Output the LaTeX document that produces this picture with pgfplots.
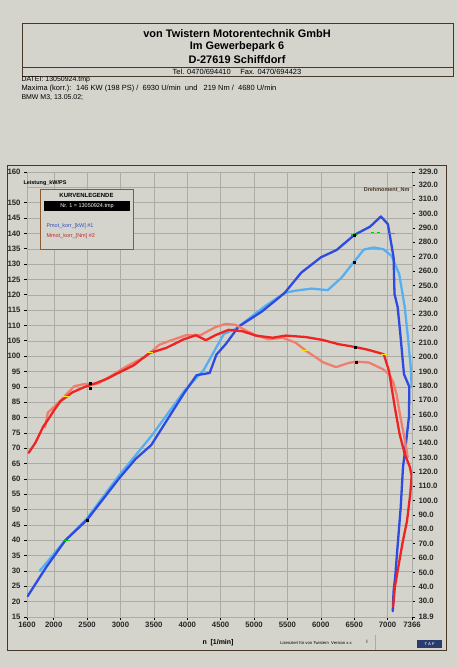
\documentclass[border=0pt]{standalone}
\usepackage{fontspec}
\setmainfont{Liberation Sans}
\usepackage{pgfplots}
\pgfplotsset{compat=1.18}

\definecolor{paper}{RGB}{212,212,204}
\definecolor{gridc}{RGB}{172,172,166}
\definecolor{framec}{RGB}{70,55,40}
\definecolor{pdark}{RGB}{45,75,225}
\definecolor{plight}{RGB}{85,175,240}
\definecolor{tred}{RGB}{240,35,35}
\definecolor{tsalmon}{RGB}{240,125,110}
\definecolor{legblue}{RGB}{50,80,190}
\definecolor{legred}{RGB}{190,40,40}
\definecolor{legframe}{RGB}{140,90,45}
\definecolor{navy}{RGB}{40,60,110}

\pgfplotsset{
  dyno/.style={
    at={(27bp,50bp)}, anchor=south west,
    scale only axis, width=385bp, height=445bp,
    xmin=1600, xmax=7366,
    tick align=outside, major tick length=3bp,
    tick style={black, line width=0.6bp},
    axis line style={gridc, line width=0.5bp},
    ticklabel style={font=\bfseries\fontsize{7.8}{8}\selectfont, text=black!85},
    /pgf/number format/assume math mode=true,
    /pgf/number format/1000 sep={},
    clip=true,
  },
  curve/.style={line width=2.3bp, line join=round, line cap=round},
}

\begin{document}
\begin{tikzpicture}[x=1bp,y=1bp]
\fill[paper] (0,0) rectangle (457,667);

% header
\draw[framec, line width=0.6bp] (22,591) rectangle (453,644);
\draw[framec, line width=0.6bp] (22,600) -- (453,600);
\node[font=\bfseries\fontsize{11}{12}\selectfont] at (237,633) {von Twistern Motorentechnik GmbH};
\node[font=\bfseries\fontsize{11}{12}\selectfont] at (237,620) {Im Gewerbepark 6};
\node[font=\bfseries\fontsize{11}{12}\selectfont] at (237,607) {D-27619 Schiffdorf};
\node[font=\fontsize{7.5}{8}\selectfont] at (237,595.5) {Tel. 0470/694410 \quad Fax. 0470/694423};
\node[anchor=west, font=\fontsize{7}{8}\selectfont] at (18,587) {DATEI: 13050924.tmp};
\node[anchor=west, font=\fontsize{7.5}{8}\selectfont] at (18,578) {Maxima (korr.): \ 146 KW (198 PS) / \ 6930 U/min \ und \ \ 219 Nm / \ 4680 U/min};
\node[anchor=west, font=\fontsize{7}{8}\selectfont] at (18,569) {BMW M3, 13.05.02;};

% chart frame
\draw[framec, line width=0.9bp] (7,17) rectangle (446,502);

% power axis (left)
\begin{axis}[dyno,
  ymin=15, ymax=160,
  xtick={1600,2000,2500,3000,3500,4000,4500,5000,5500,6000,6500,7000,7366},
  ytick={15,20,...,150,160},
  extra y ticks={155}, extra y tick labels={},
  extra y tick style={grid=major, major tick length=0pt},
  grid=major, grid style={gridc, line width=0.4bp},
  xtick pos=bottom, ytick pos=left,
  xticklabel style={yshift=1bp},
]
\addplot[curve, plight] coordinates {
(1790,30.0) (2145,39.3) (2490,46.9) (2978,61.1) (3475,74.3) (3960,88.8)
(4244,95.4) (4547,107.2) (4725,108.9) (5167,116.3) (5459,120.6) (5610,121.3)
(5862,122.0) (6103,121.5) (6308,125.5) (6497,130.7) (6643,134.7) (6792,135.4)
(6941,134.8) (7062,132.6) (7175,126.7) (7257,116.0) (7311,104.9) (7351,95.2)
(7360,90.0)};
\addplot[curve, pdark] coordinates {
(1610,21.8) (1884,31.1) (2175,40.0) (2497,46.6) (2977,60.1) (3226,66.5)
(3460,71.0) (3954,88.0) (4140,93.8) (4335,94.5) (4437,100.5) (4579,104.0)
(4768,109.6) (5122,114.6) (5459,120.6) (5707,127.2) (6002,132.2) (6238,134.6)
(6503,139.5) (6739,142.2) (6900,145.5) (7005,143.0) (7090,132.2) (7104,120.2)
(7151,116.0) (7191,107.2) (7246,94.1) (7326,90.0) (7320,80.2) (7269,70.4)
(7231,63.8) (7197,50.8) (7149,37.8) (7114,28.0) (7090,23.4) (7078,16.9)};
\addplot[only marks, mark=-, mark size=3bp, green!80!black, line width=1.2bp]
  coordinates {(2200,40.0) (6503,139.5) (7060,140.0)};
\addplot[green!80!black, line width=1bp, dashed] coordinates {(6758,140.3) (6892,140.3)};
\addplot[only marks, mark=square*, mark size=1bp, black]
  coordinates {(2497,46.6) (6503,139.5) (6497,130.7)};
\end{axis}

% torque axis (right)
\begin{axis}[dyno,
  ymin=18.9, ymax=329,
  axis x line=none, axis y line*=right,
  ytick={30,40,...,320}, extra y ticks={18.9,329},
  /pgf/number format/fixed, /pgf/number format/fixed zerofill,
  /pgf/number format/precision=1,
]
\addplot[curve, tsalmon] coordinates {
(1870,151.0) (1912,161.3) (2011,165.6) (2161,172.6) (2308,179.7) (2457,181.2)
(2651,181.4) (2842,186.4) (3093,193.6) (3389,200.7) (3580,208.6) (3790,212.2)
(3980,215.2) (4204,215.4) (4426,221.0) (4575,223.1) (4724,222.5) (4874,218.6)
(5027,215.2) (5220,212.4) (5429,213.5) (5625,210.0) (5775,204.5) (6034,196.4)
(6229,193.0) (6422,196.0) (6527,196.8) (6721,196.2) (6933,191.5) (7022,188.1)
(7085,182.5) (7134,174.2) (7184,160.3) (7251,144.2) (7302,130.3)};
\addplot[curve, tred] coordinates {
(1625,133.3) (1727,140.4) (1842,151.5) (1915,156.4) (2013,163.5) (2103,169.3)
(2279,175.4) (2457,179.1) (2606,181.4) (2799,184.9) (2947,188.5) (3198,194.3)
(3433,202.8) (3686,206.4) (3937,212.2) (4130,215.2) (4279,211.8) (4427,215.4)
(4620,219.0) (4830,218.0) (5025,215.0) (5279,213.5) (5473,215.0) (5771,214.0)
(6024,212.0) (6267,209.0) (6521,207.0) (6718,205.0) (6943,202.0) (7022,190.2)
(7108,165.2) (7180,146.4) (7257,132.5) (7333,123.5) (7360,117.3) (7340,104.7)
(7291,85.8) (7221,69.8) (7150,50.8) (7109,39.6) (7084,26.4)};
\addplot[only marks, mark=-, mark size=3bp, yellow!90!orange, line width=1.2bp]
  coordinates {(2190,172.6) (3440,203.0) (5760,204.5) (6943,202.0)};
\addplot[only marks, mark=square*, mark size=1bp, black]
  coordinates {(2547,181.5) (2547,178.5) (6521,207.0) (6527,196.8)};
\end{axis}

% axis captions
\node[anchor=west, font=\bfseries\fontsize{5.5}{6}\selectfont] at (20,484) {Leistung\_kW/PS};
\node[anchor=east, text=framec, font=\bfseries\fontsize{5.5}{6}\selectfont] at (413,477) {Drehmoment\_Nm};
\node[font=\bfseries\fontsize{7}{8}\selectfont] at (218,24) {n \ [1/min]};
\node[font=\fontsize{4.2}{5}\selectfont] at (316,24) {Lizenziert für von Twistern \ Version x.x};
\node[font=\fontsize{5}{6}\selectfont] at (367,25) {I};
\draw[gridc, line width=0.5bp] (375,17) -- (375,32);
\fill[navy] (417,19) rectangle (442,27);
\node[text=white!80!navy, font=\bfseries\fontsize{4}{5}\selectfont] at (429.5,23) {T A F};

% legend
\draw[legframe, line width=0.9bp, fill=paper] (40,418) rectangle (133,478);
\node[font=\bfseries\fontsize{6}{7}\selectfont] at (86.5,472) {KURVENLEGENDE};
\fill[black] (44,456) rectangle (130,466);
\node[text=white, font=\fontsize{5.5}{6}\selectfont] at (87,461) {Nr. 1 = 13050924.tmp};
\node[anchor=west, text=legblue, font=\fontsize{5.5}{6}\selectfont] at (43,441) {Pmot\_korr\_[kW] \#1};
\node[anchor=west, text=legred, font=\fontsize{5.5}{6}\selectfont] at (43,431) {Mmot\_korr\_[Nm] \#2};
\end{tikzpicture}
\end{document}
